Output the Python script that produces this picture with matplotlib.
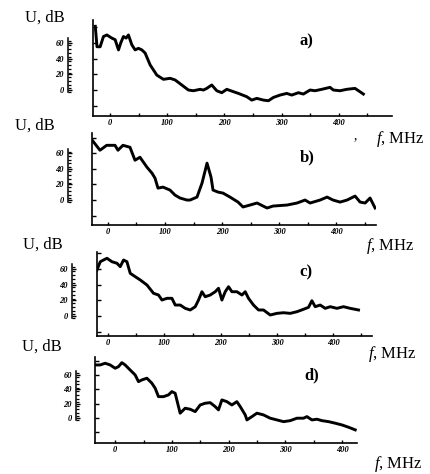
import matplotlib
matplotlib.use("Agg")
import matplotlib.pyplot as plt
from matplotlib.ticker import MultipleLocator, FixedLocator
import numpy as np

W, H = 430, 474

# spectra (f in MHz, U in dB)
freq_a = [-26, -23, -17.5, -11.7, -5.8, 2.9, 8.7, 14.6, 18.6, 23.3,
          28, 32, 37.9, 43.7, 49.5, 55.4, 61.2, 69.9, 81.6, 93.2,
          104.9, 113.6, 125.3, 136.9, 145.6, 157.3, 163.1, 169, 177.7, 186.5,
          195.2, 204, 215.6, 224.4, 239, 247.7, 256.5, 268.1, 276.8, 285.6,
          297.2, 308.9, 317.6, 329.3, 338, 349.7, 358.4, 370.1, 384.6, 390.4,
          402.1, 413.8, 428.3, 442.9]
level_a = [81, 55, 55, 68, 70, 66, 64, 51, 60, 68,
           66, 70, 57.5, 51, 53, 51, 47, 32, 19, 13.6,
           14.9, 12.8, 6.4, 0, -0.9, 0.9, 0, 2.1, 6.4, -0.9,
           -3.4, 0.9, -2.1, -4.3, -8.5, -12.8, -10.6, -12.8, -13.6, -9.4,
           -6.4, -4.3, -6.4, -3.4, -5.1, 0, -0.9, 0.9, 3.4, 0,
           -0.9, 0.9, 2.1, -5.1]

freq_b = [-27.5, -14, -2.3, 12.3, 17.5, 26.3, 38.6, 47.4, 56.1, 68.4,
          77.2, 82.5, 87.7, 96.5, 108.8, 117.5, 126.3, 138.6, 143.9, 156.1,
          164.9, 173.7, 180.7, 184.2, 193, 201.8, 214, 228.1, 236.8, 249.1,
          261.4, 278.9, 289.5, 314, 331.6, 345.6, 354.4, 371.9, 384.2, 394.7,
          407, 419.3, 433.3, 442.1, 450.9, 459.6, 468.4]
level_b = [76.6, 63.9, 70.2, 70.2, 63.9, 70.2, 67.7, 51.1, 54.9, 42.1,
           34.5, 28.1, 15.3, 16.6, 12.8, 6.4, 2.6, 0, 0, 3.8,
           21.7, 47.3, 29.4, 12.8, 10.2, 8.9, 3.8, -2.6, -8.9, -6.4,
           -3.8, -10.2, -7.7, -6.4, -3.8, 0, -3.8, 0, 3.8, 0,
           -2.6, 0, 5.1, -2.6, -3.8, 2.6, -10.2]

freq_c = [-20.1, -14.2, -8.4, -2.3, 6.6, 15.5, 21.3, 27.2, 33.2, 39.1,
          48, 56.9, 68.8, 80.5, 89.4, 95.5, 104.4, 113.2, 119.1, 128,
          136.9, 145.8, 154.7, 160.5, 166.6, 172.4, 181.3, 190.2, 196.1, 202.1,
          208, 213.9, 219.9, 228.8, 237.7, 243.6, 249.4, 258.3, 267.2, 276.1,
          288, 299.9, 311.6, 323.6, 335.5, 347.2, 356.1, 362.1, 368, 376.9,
          385.8, 394.7, 406.6, 418.3, 430.2, 445]
level_c = [58.7, 69.3, 71.5, 73.7, 69.3, 67.3, 63, 71.5, 69.3, 54.5,
           50.2, 46, 39.6, 29, 26.8, 20.4, 22.6, 22.6, 14, 14,
           9.8, 7.7, 11.9, 20.4, 31, 24.6, 26.8, 31, 35.4, 20.4,
           31, 37.4, 31, 31, 26.8, 31, 22.6, 14, 7.7, 7.7,
           1.3, 3.4, 4.2, 3.4, 5.5, 8.6, 11.1, 19.5, 11.9, 14,
           9.8, 11.9, 9.8, 11.9, 9.8, 7.7]

freq_d = [-35.2, -26.4, -17.6, -8.8, 0, 5.8, 11.8, 17.6, 26.4, 35.2,
          41.1, 47, 55.9, 64.7, 70.5, 76.3, 85.1, 93.9, 99.9, 105.7,
          114.5, 123.3, 132.2, 141, 149.8, 158.6, 167.4, 176.2, 182, 188,
          196.8, 205.6, 214.4, 220.3, 229.1, 232.1, 240.9, 249.7, 261.3, 273.1,
          284.9, 296.6, 308.4, 320.2, 331.8, 337.8, 346.6, 355.4, 364.2, 375.9,
          387.7, 399.5, 411.1, 422.9]
level_d = [73.9, 73.9, 76.3, 73.9, 69.3, 71.5, 77.1, 73.9, 66.9, 60,
           50.6, 53, 55.4, 48.4, 41.4, 29.7, 29.7, 32.1, 36.7, 34.4,
           6.6, 13.5, 12.1, 8.8, 18.1, 20.5, 21.3, 15.8, 11.2, 25.1,
           22.7, 18.1, 22.7, 15.8, 4.2, -2.8, 1.8, 6.6, 4.2, -0.4,
           -2.8, -5.2, -3.8, -0.4, -0.4, 1.8, -2.8, -1.8, -3.8, -5.2,
           -7.4, -9.8, -13, -16.7]

panel_names = ["a)", "b)", "c)", "d)"]
scale_ticks = [0, 20, 40, 60]
freq_ticks = [0, 100, 200, 300, 400]

plt.rcParams['font.family'] = 'Liberation Serif'
plt.rcParams['mathtext.fontset'] = 'custom'
plt.rcParams['mathtext.it'] = 'Liberation Serif:italic'
plt.rcParams['mathtext.rm'] = 'Liberation Serif'


def box(l, t, r, b):
    return [l / W, 1 - b / H, (r - l) / W, (b - t) / H]


def px(x, y):
    return x / W, 1 - y / H


# pixel layout of each panel in the scan
layout = [
    dict(box=(93, 20, 392, 116), bar=68, xlim=(-30, 493), ylim=(-33, 89),
         ulab=(45, 18), name=(306, 41), flab=(400, 139)),
    dict(box=(92, 133, 376, 225), bar=68, xlim=(-28, 470), ylim=(-32, 86),
         ulab=(35, 126), name=(307, 157), flab=(390, 246)),
    dict(box=(97, 252, 372, 336), bar=72, xlim=(-20, 469), ylim=(-25.5, 81.7),
         ulab=(43, 245), name=(306, 272), flab=(392, 354)),
    dict(box=(95, 357, 357, 443), bar=76, xlim=(-35.5, 426), ylim=(-35, 85),
         ulab=(42, 347), name=(312, 375), flab=(398, 464)),
]

series = [(freq_a, level_a), (freq_b, level_b), (freq_c, level_c), (freq_d, level_d)]

fig = plt.figure(figsize=(W / 100, H / 100), dpi=100)

for i in range(4):
    L = layout[i]
    f, u = series[i]
    l, t, r, b = L['box']

    ax = fig.add_axes(box(l, t, r, b))
    ax.plot(f, u, color='black', lw=2.1, solid_joinstyle='round')
    ax.set_xlim(L['xlim'])
    ax.set_ylim(L['ylim'])
    for s in ['top', 'right']:
        ax.spines[s].set_visible(False)
    for s in ['left', 'bottom']:
        ax.spines[s].set_linewidth(1.2)
    ax.set_xticks(freq_ticks)
    ax.set_xticklabels([str(v) for v in freq_ticks], fontsize=6,
                       fontstyle='italic', fontweight='bold')
    ax.xaxis.set_minor_locator(MultipleLocator(50))
    ax.yaxis.set_major_locator(MultipleLocator(20))
    ax.tick_params(axis='both', which='both', direction='in', length=2.5,
                   width=1.0, pad=2)
    ax.tick_params(axis='y', length=3, labelleft=False)

    # separate dB scale bar left of the axis, same dB range as the panel
    sb = fig.add_axes(box(L['bar'], t, L['bar'] + 1, b))
    sb.set_ylim(L['ylim'])
    sb.patch.set_visible(False)
    for s in ['top', 'right', 'bottom']:
        sb.spines[s].set_visible(False)
    sb.spines['left'].set_bounds(-3, 66)
    sb.spines['left'].set_linewidth(1.1)
    sb.set_xticks([])
    sb.yaxis.set_major_locator(FixedLocator(scale_ticks))
    sb.yaxis.set_minor_locator(FixedLocator(np.arange(-3, 67, 5)))
    sb.set_yticklabels([str(v) for v in scale_ticks], fontsize=6,
                       fontstyle='italic', fontweight='bold')
    sb.tick_params(axis='y', which='major', direction='in', length=3,
                   width=1.0, pad=3)
    sb.tick_params(axis='y', which='minor', direction='in', length=2,
                   width=0.9)

    fig.text(*px(*L['ulab']), "U, dB", fontsize=12, ha='center', va='center')
    fig.text(*px(*L['name']), panel_names[i], fontsize=12, fontweight='bold',
             ha='center', va='center')
    fig.text(*px(*L['flab']), "$f$, MHz", fontsize=12, ha='center', va='center')

# stray mark on the scan next to the first f label
fig.text(*px(355, 136), ",", fontsize=10, ha='center', va='center')

fig.savefig("out.png", dpi=100)
